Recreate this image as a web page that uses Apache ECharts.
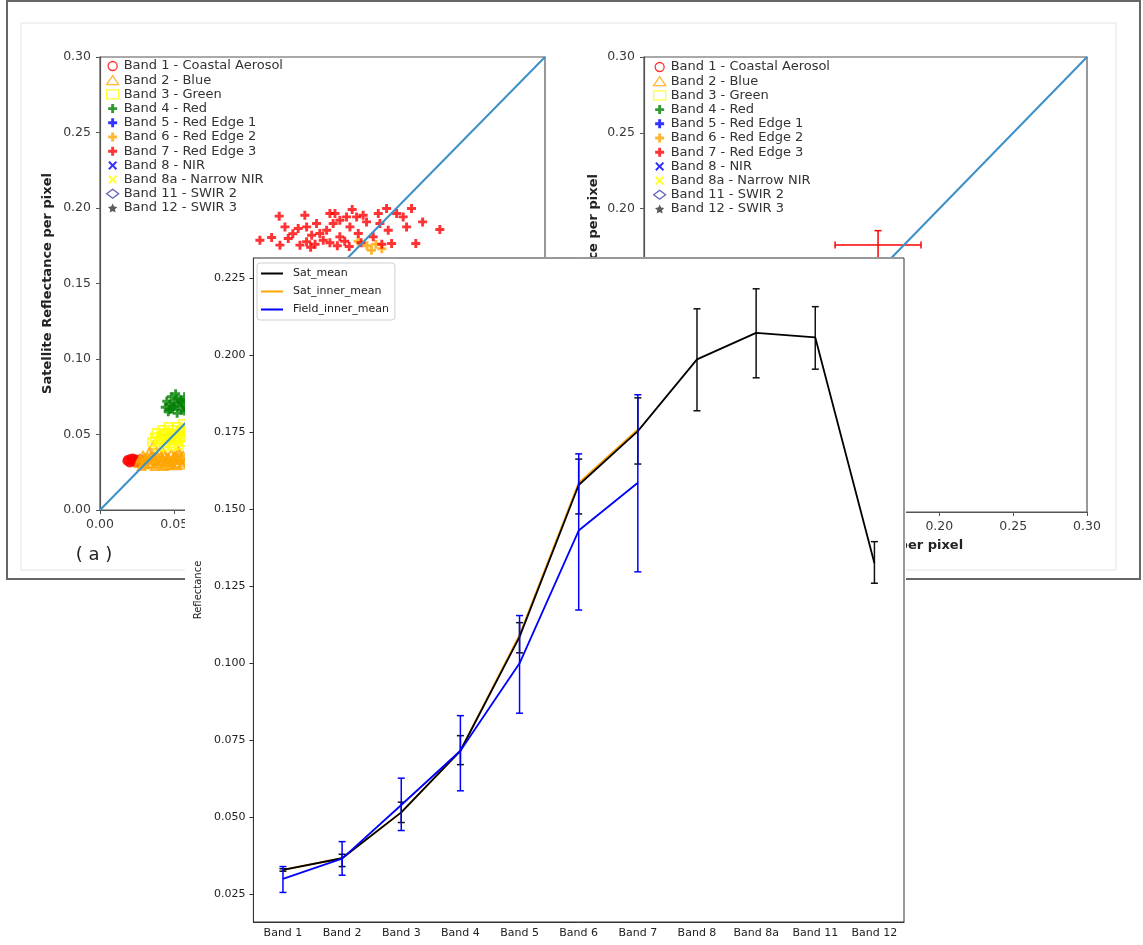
<!DOCTYPE html>
<html>
<head>
<meta charset="utf-8">
<script src="https://cdn.jsdelivr.net/npm/echarts@6/dist/echarts.min.js"></script>
<style>
html,body{margin:0;padding:0;background:#fff;}
#bg{position:absolute;left:0;top:0;width:1143px;height:945px;}
#fg{position:absolute;left:185px;top:257px;width:721px;height:688px;background:#fff;}
</style>
</head>
<body>
<div id="bg"></div>
<div id="fg"></div>
<script>
// ---------- Foreground line chart data ----------
const categories = ['Band 1','Band 2','Band 3','Band 4','Band 5','Band 6','Band 7','Band 8','Band 8a','Band 11','Band 12'];
const satMean      = [0.0329,0.0367,0.0516,0.0716,0.1086,0.1579,0.1754,0.1987,0.2073,0.2058,0.1325];
const satMeanLow   = [0.0325,0.0340,0.0483,0.0671,0.1034,0.1485,0.1647,0.1820,0.1927,0.1955,0.1260];
const satMeanHigh  = [0.0333,0.0380,0.0549,0.0765,0.1132,0.1663,0.1862,0.2151,0.2216,0.2158,0.1395];
const satInnerMean = [0.0329,0.0367,0.0516,0.0716,0.1092,0.1586,0.1759];
const fieldInner   = [0.0300,0.0366,0.0540,0.0716,0.1000,0.1431,0.1586];
const fieldLow     = [0.0256,0.0312,0.0457,0.0586,0.0838,0.1173,0.1297];
const fieldHigh    = [0.0340,0.0421,0.0627,0.0830,0.1155,0.1680,0.1872];
const yTicks = [0.025,0.050,0.075,0.100,0.125,0.150,0.175,0.200,0.225];

// ---------- Background scatter data ----------
const bandNames = ['Band 1 - Coastal Aerosol','Band 2 - Blue','Band 3 - Green','Band 4 - Red','Band 5 - Red Edge 1','Band 6 - Red Edge 2','Band 7 - Red Edge 3','Band 8 - NIR','Band 8a - Narrow NIR','Band 11 - SWIR 2','Band 12 - SWIR 3'];
const band1Pts = [[0.018,0.0325],[0.0185,0.0335],[0.019,0.0318],[0.0195,0.033],[0.020,0.031],[0.0205,0.0342],[0.021,0.0325],[0.0215,0.033],[0.022,0.0345],[0.022,0.0315],[0.0225,0.0335],[0.023,0.032],[0.0235,0.034],[0.024,0.0335],[0.0245,0.031],[0.025,0.033],[0.0255,0.0322],[0.026,0.032],[0.027,0.034],[0.028,0.0325]];
const band2Pts = [[0.026,0.031],[0.027,0.034],[0.028,0.029],[0.029,0.036],[0.030,0.032],[0.031,0.030],[0.032,0.035],[0.033,0.038],[0.034,0.031],[0.035,0.033],[0.036,0.036],[0.037,0.029],[0.038,0.032],[0.039,0.035],[0.040,0.038],[0.041,0.031],[0.042,0.034],[0.043,0.029],[0.044,0.036],[0.045,0.032],[0.046,0.035],[0.047,0.030],[0.048,0.037],[0.049,0.033],[0.050,0.036],[0.051,0.031],[0.052,0.034],[0.053,0.038],[0.054,0.033],[0.055,0.030],[0.056,0.036],[0.058,0.033],[0.060,0.035],[0.062,0.032],[0.030,0.0345],[0.034,0.0355],[0.039,0.030],[0.044,0.033],[0.049,0.030],[0.028,0.0325],[0.031,0.0335],[0.033,0.0305],[0.035,0.0365],[0.037,0.0335],[0.040,0.0325],[0.041,0.0355],[0.043,0.0375],[0.045,0.0295],[0.046,0.0335],[0.048,0.0315],[0.050,0.0345],[0.052,0.0295],[0.053,0.0355],[0.055,0.0345],[0.057,0.0315],[0.036,0.043],[0.053,0.039]];
const band3Pts = [[0.035,0.045],[0.037,0.048],[0.038,0.051],[0.040,0.045],[0.041,0.049],[0.042,0.053],[0.043,0.042],[0.044,0.047],[0.045,0.051],[0.046,0.055],[0.047,0.044],[0.048,0.049],[0.049,0.053],[0.050,0.046],[0.051,0.050],[0.052,0.055],[0.053,0.043],[0.054,0.048],[0.055,0.052],[0.056,0.057],[0.057,0.045],[0.058,0.050],[0.060,0.054],[0.062,0.048],[0.064,0.052],[0.039,0.042],[0.041,0.0465],[0.043,0.0505],[0.045,0.0445],[0.047,0.0475],[0.049,0.0425],[0.050,0.0505],[0.052,0.0465],[0.054,0.0525],[0.056,0.0485],[0.058,0.0545]];
const band4Pts = [[0.044,0.068],[0.045,0.072],[0.046,0.065],[0.047,0.070],[0.048,0.075],[0.049,0.067],[0.050,0.071],[0.051,0.077],[0.052,0.064],[0.053,0.069],[0.054,0.073],[0.055,0.066],[0.056,0.070],[0.057,0.075],[0.058,0.068],[0.060,0.072],[0.062,0.067],[0.064,0.071],[0.047,0.0665],[0.050,0.0685],[0.052,0.0735],[0.055,0.0715],[0.057,0.0655]];
const band5Pts = [];
const band6Pts = [[0.174,0.178],[0.180,0.175],[0.186,0.176],[0.190,0.173],[0.183,0.172]];
const band7Pts = [[0.1208,0.1946],[0.1078,0.1787],[0.1157,0.1805],[0.1247,0.1875],[0.1269,0.1798],[0.1336,0.1864],[0.1381,0.1952],[0.1393,0.1875],[0.146,0.1897],[0.1427,0.182],[0.155,0.1964],[0.1584,0.1964],[0.1572,0.1897],[0.1528,0.1853],[0.1617,0.1919],[0.1662,0.1941],[0.173,0.1941],[0.1685,0.1875],[0.1774,0.1952],[0.1741,0.1831],[0.1617,0.1809],[0.1505,0.1787],[0.1876,0.1964],[0.1932,0.1997],[0.1887,0.1897],[0.1943,0.1853],[0.2,0.1964],[0.2044,0.1941],[0.21,0.1997],[0.2067,0.1875],[0.2175,0.1908],[0.2291,0.1858],[0.1966,0.1765],[0.2129,0.1765],[0.1842,0.1809],[0.1348,0.1754],[0.1213,0.1754],[0.1797,0.1908],[0.1482,0.1831],[0.1393,0.1776],[0.1300,0.1830],[0.1650,0.1780],[0.1450,0.1760],[0.1900,0.1760],[0.1700,0.1990],[0.1600,0.1750],[0.1550,0.1770],[0.1760,0.1770],[0.1420,0.1740],[0.1680,0.1745]];
const band8Pts = [], band8aPts = [], band11Pts = [], band12Pts = [];
const rightErr = [[0.1585,0.176,0.0291,0.0095]];
const diagonal = [[0,0],[0.3,0.3]];

// ---------- symbols ----------
const PLUS = 'path://M-1.3,-4L1.3,-4L1.3,-1.3L4,-1.3L4,1.3L1.3,1.3L1.3,4L-1.3,4L-1.3,1.3L-4,1.3L-4,-1.3L-1.3,-1.3Z';
const XMARK = 'path://M-4,-2.7L-2.7,-4L0,-1.3L2.7,-4L4,-2.7L1.3,0L4,2.7L2.7,4L0,1.3L-2.7,4L-4,2.7L-1.3,0Z';
const STAR = 'path://M0,-10L2.9,-4L9.5,-3.1L4.7,1.5L5.9,8.1L0,5L-5.9,8.1L-4.7,1.5L-9.5,-3.1L-2.9,-4Z';
const bandStyle = [
  {symbol:'circle', size:7, empty:true, color:'#ff0000'},
  {symbol:'triangle', size:8, empty:true, color:'#ffa500'},
  {symbol:'rect', size:8, empty:true, color:'#ffff00'},
  {symbol:PLUS, size:9, empty:false, color:'#008000'},
  {symbol:PLUS, size:9, empty:false, color:'#0000ff'},
  {symbol:PLUS, size:9, empty:false, color:'#ffa500'},
  {symbol:PLUS, size:9, empty:false, color:'#ff0000'},
  {symbol:XMARK, size:9, empty:false, color:'#0000ff'},
  {symbol:XMARK, size:9, empty:false, color:'#ffff00'},
  {symbol:'diamond', size:10, empty:true, color:'#3a3aa8'},
  {symbol:STAR, size:9, empty:false, color:'#333333'}
];
const leftData = [band1Pts,band2Pts,band3Pts,band4Pts,band5Pts,band6Pts,band7Pts,band8Pts,band8aPts,band11Pts,band12Pts];

function itemStyleOf(b, w){
  return b.empty ? {color:'rgba(255,255,255,0)', borderColor:b.color, borderWidth:w||1.3}
                 : {color:b.color, borderWidth:0};
}

const FONT = 'DejaVu Sans';
function scatterAxis(gi, isX, nameGap){
  return {
    gridIndex: gi, type:'value', min:0, max:0.3, interval:0.05,
    axisLine:{show:true, onZero:false, lineStyle:{color:'#555', width:1.2}},
    axisTick:{show:true, length:4, lineStyle:{color:'#555'}},
    axisLabel:{formatter:v=>v.toFixed(2), fontSize:12.5, color:'#3a3a3a', fontFamily:FONT, margin: isX?8:9},
    splitLine:{show:false},
    name: isX ? 'Field Reflectance per pixel' : 'Satellite Reflectance per pixel',
    nameLocation:'middle', nameGap:nameGap,
    nameTextStyle:{fontWeight:'bold', fontSize:13, color:'#222', fontFamily:FONT}
  };
}

const bgSeries = [];
for (let g=0; g<2; g++){
  bandNames.forEach((n,i)=>{
    const b = bandStyle[i];
    bgSeries.push({
      type:'scatter', name:n, xAxisIndex:g, yAxisIndex:g,
      data: g===0 ? leftData[i] : [],
      symbol:b.symbol, symbolSize:b.size, itemStyle:itemStyleOf(b, 1.8),
      emphasis:{disabled:true}, z:2, animation:false
    });
  });
  bgSeries.push({type:'line', name:'diag'+g, xAxisIndex:g, yAxisIndex:g, data:diagonal,
    symbol:'none', lineStyle:{color:'#3d8fc8', width:2}, z:5, animation:false, silent:true});
}
bgSeries.push({
  type:'custom', name:'b7err', xAxisIndex:1, yAxisIndex:1, data:rightErr, z:4, animation:false,
  encode:{x:0, y:1},
  renderItem:function(params, api){
    const x=api.value(0), y=api.value(1), xe=api.value(2), ye=api.value(3);
    const l=api.coord([x-xe,y]), r=api.coord([x+xe,y]), t=api.coord([x,y+ye]), b=api.coord([x,y-ye]);
    const st={stroke:'#ff0000', lineWidth:1.5}; const w=3.5;
    return {type:'group', children:[
      {type:'line', shape:{x1:l[0],y1:l[1],x2:r[0],y2:r[1]}, style:st},
      {type:'line', shape:{x1:t[0],y1:t[1],x2:b[0],y2:b[1]}, style:st},
      {type:'line', shape:{x1:l[0],y1:l[1]-w,x2:l[0],y2:l[1]+w}, style:st},
      {type:'line', shape:{x1:r[0],y1:r[1]-w,x2:r[0],y2:r[1]+w}, style:st},
      {type:'line', shape:{x1:t[0]-w,y1:t[1],x2:t[0]+w,y2:t[1]}, style:st},
      {type:'line', shape:{x1:b[0]-w,y1:b[1],x2:b[0]+w,y2:b[1]}, style:st}
    ]};
  }
});

function legendFor(left, top){
  return {
    orient:'vertical', left:left, top:top, padding:0, itemGap:0.2, itemWidth:12, itemHeight:9,
    selectedMode:false,
    textStyle:{fontSize:13, color:'#333', lineHeight:14, fontFamily:FONT},
    data: bandNames.map((n,i)=>({name:n, icon:bandStyle[i].symbol, itemStyle:itemStyleOf(bandStyle[i], 1.3)}))
  };
}

const bgChart = echarts.init(document.getElementById('bg'), null, {renderer:'canvas'});
bgChart.setOption({
  animation:false,
  backgroundColor:'#fff',
  grid:[
    {left:100, top:57, width:445, height:453, show:true, borderColor:'#555', borderWidth:1.2, backgroundColor:'rgba(0,0,0,0)'},
    {left:644, top:57, width:443, height:455, show:true, borderColor:'#555', borderWidth:1.2, backgroundColor:'rgba(0,0,0,0)'}
  ],
  xAxis:[scatterAxis(0,true,27), scatterAxis(1,true,27)],
  yAxis:[scatterAxis(0,false,46), scatterAxis(1,false,44)],
  legend:[legendFor(106,59), legendFor(653,60)],
  graphic:[
    {type:'rect', shape:{x:7,y:1,width:1133,height:578}, style:{fill:'none', stroke:'#666', lineWidth:2}, silent:true},
    {type:'rect', shape:{x:21,y:23,width:1095,height:547}, style:{fill:'none', stroke:'#e4e4e4', lineWidth:1}, silent:true},
    {type:'text', x:94, y:555, style:{text:'( a )', fontSize:18, fontFamily:FONT, fill:'#222', align:'center', verticalAlign:'middle'}, silent:true},
    {type:'text', x:640, y:555, style:{text:'( b )', fontSize:18, fontFamily:FONT, fill:'#222', align:'center', verticalAlign:'middle'}, silent:true}
  ],
  series: bgSeries
});

// ---------- Foreground chart ----------
function makeErr(color){
  return function(params, api){
    const i = api.value(0);
    const lo = api.coord([i, api.value(1)]);
    const hi = api.coord([i, api.value(2)]);
    const w = 3.5;
    const st = {stroke:color, lineWidth:1.5};
    return {type:'group', children:[
      {type:'line', shape:{x1:lo[0],y1:lo[1],x2:hi[0],y2:hi[1]}, style:st},
      {type:'line', shape:{x1:lo[0]-w,y1:lo[1],x2:lo[0]+w,y2:lo[1]}, style:st},
      {type:'line', shape:{x1:hi[0]-w,y1:hi[1],x2:hi[0]+w,y2:hi[1]}, style:st}
    ]};
  };
}

const fgChart = echarts.init(document.getElementById('fg'), null, {renderer:'canvas'});
fgChart.setOption({
  animation:false,
  backgroundColor:'#fff',
  grid:{left:66, top:1, width:653, height:664, show:true, borderColor:'#333', borderWidth:1},
  legend:{
    orient:'vertical', left:72, top:6, padding:[4,6,4,4], itemGap:5, itemWidth:22, itemHeight:2,
    backgroundColor:'rgba(255,255,255,0.8)', borderColor:'#d0d0d0', borderWidth:1, borderRadius:3,
    selectedMode:false,
    textStyle:{fontSize:11, color:'#222', lineHeight:13, fontFamily:FONT, padding:[0,0,0,5]},
    data:[{name:'Sat_mean', icon:'rect'},{name:'Sat_inner_mean', icon:'rect'},{name:'Field_inner_mean', icon:'rect'}]
  },
  xAxis:{
    type:'category', data:categories, boundaryGap:true,
    axisLine:{lineStyle:{color:'#333'}},
    axisTick:{alignWithLabel:true, length:4, lineStyle:{color:'#333'}},
    axisLabel:{fontSize:11, color:'#222', margin:6, fontFamily:FONT, interval:0},
    splitLine:{show:false}
  },
  yAxis:{
    type:'value', min:0.016, max:0.2316,
    axisLine:{show:true, lineStyle:{color:'#333'}},
    axisTick:{show:true, length:4, customValues:yTicks, lineStyle:{color:'#333'}},
    axisLabel:{customValues:yTicks, formatter:v=>v.toFixed(3), fontSize:11, color:'#222', margin:8, fontFamily:FONT},
    splitLine:{show:false},
    name:'Reflectance', nameLocation:'middle', nameGap:43,
    nameTextStyle:{fontSize:10, color:'#222', fontFamily:FONT}
  },
  series:[
    {type:'line', name:'Sat_inner_mean', data:satInnerMean, symbol:'none', z:2,
     lineStyle:{color:'#ffa500', width:1.8}, itemStyle:{color:'#ffa500'}},
    {type:'line', name:'Sat_mean', data:satMean, symbol:'none', z:3,
     lineStyle:{color:'#000000', width:1.8}, itemStyle:{color:'#000000'}},
    {type:'custom', name:'satErr', data:satMeanLow.map((l,i)=>[i,l,satMeanHigh[i]]),
     encode:{x:0, y:[1,2]}, renderItem:makeErr('#111111'), z:3},
    {type:'line', name:'Field_inner_mean', data:fieldInner, symbol:'none', z:4,
     lineStyle:{color:'#0000ff', width:1.8}, itemStyle:{color:'#0000ff'}},
    {type:'custom', name:'fieldErr', data:fieldLow.map((l,i)=>[i,l,fieldHigh[i]]),
     encode:{x:0, y:[1,2]}, renderItem:makeErr('#0000ff'), z:4}
  ]
});
</script>
</body>
</html>
